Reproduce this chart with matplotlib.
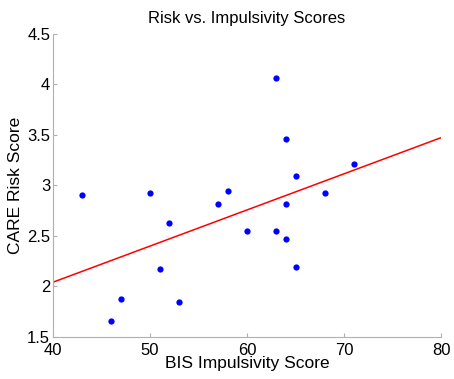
import numpy as np
import matplotlib
matplotlib.use("Agg")
import matplotlib.pyplot as plt

# data
bis = [63, 43, 50, 52, 57, 58, 60, 63, 64, 64, 64, 65, 68, 71, 51, 65, 47, 53, 46]
care = [4.06, 2.90, 2.92, 2.63, 2.82, 2.94, 2.55, 2.55, 2.47, 2.82, 3.46, 3.09, 2.92, 3.21, 2.17, 2.19, 1.88, 1.85, 1.66]
x_ticks = [40, 50, 60, 70, 80]
y_ticks = [1.5, 2, 2.5, 3, 3.5, 4, 4.5]

plt.rcParams['font.family'] = ['Liberation Sans', 'DejaVu Sans']

fig = plt.figure(figsize=(4.54, 3.79), dpi=100)
ax = fig.add_axes([0.1167, 0.1108, 0.8547, 0.8003])

ax.plot(bis, care, 'o', color='#0000ff', markersize=4.5, markeredgewidth=0)

# least squares fit line across the x range
k, b = np.polyfit(bis, care, 1)
xs = np.array([x_ticks[0], x_ticks[-1]])
ax.plot(xs, k * xs + b, color='#ff0000', linewidth=1.1)

ax.set_xlim(x_ticks[0], x_ticks[-1])
ax.set_ylim(y_ticks[0], y_ticks[-1])
ax.set_xticks(x_ticks)
ax.set_yticks(y_ticks)
ax.set_yticklabels(['1.5', '2', '2.5', '3', '3.5', '4', '4.5'])

for s in ['top', 'right']:
    ax.spines[s].set_visible(False)
for s in ['left', 'bottom']:
    ax.spines[s].set_color('#b0b0b0')
    ax.spines[s].set_linewidth(0.8)
ax.tick_params(direction='in', length=3, color='#b0b0b0', labelsize=12, labelcolor='black')
ax.tick_params(axis='x', pad=4)
ax.tick_params(axis='y', pad=2)

ax.set_xlabel('BIS Impulsivity Score', fontsize=12.5, labelpad=-1)
ax.set_ylabel('CARE Risk Score', fontsize=12.5, labelpad=3)
ax.set_title('Risk vs. Impulsivity Scores', fontsize=12, pad=8)

fig.savefig('out.png', dpi=100)
